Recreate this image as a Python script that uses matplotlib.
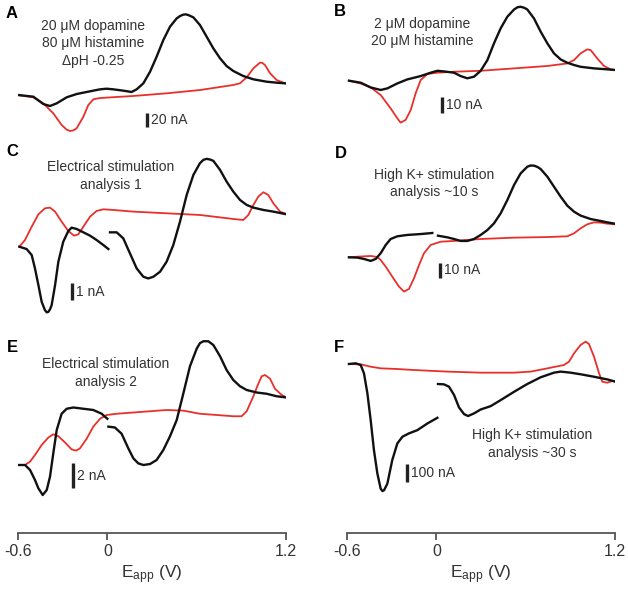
import matplotlib
matplotlib.use("Agg")
import matplotlib.pyplot as plt

plt.rcParams['font.family'] = ['Liberation Sans', 'DejaVu Sans']
plt.rcParams['mathtext.fontset'] = 'custom'
plt.rcParams['mathtext.rm'] = 'Liberation Sans'
plt.rcParams['mathtext.it'] = 'Liberation Sans'

W, H = 628, 592
BLACK = '#111111'
RED = '#e8302a'
TXT = '#333333'

# ---------------- data (E in V, current in nA) ----------------
# Panel A
A_black_E = [-0.6, -0.497, -0.43, -0.385, -0.34, -0.273, -0.206, -0.139, -0.049, -0.004, 0.04, 0.107, 0.163,
             0.197, 0.242, 0.287, 0.331, 0.376, 0.421, 0.466, 0.49, 0.51, 0.527, 0.544, 0.578, 0.622, 0.667,
             0.712, 0.757, 0.801, 0.846, 0.913, 0.981, 1.07, 1.137, 1.193]
A_black_I = [0, -2.4, -12.9, -15.7, -11.9, -3.3, 1.4, 4.3, 8.1, 9.0, 8.1, 6.2, 4.3,
             8.1, 16.7, 33.3, 54.7, 78.5, 97.6, 109.5, 113.0, 114.8, 115.2, 114.2, 110.9, 100, 83.3,
             66.6, 52.4, 41.4, 34.3, 27.1, 22.4, 19.0, 17.6, 16.7]
A_red_E = [-0.6, -0.497, -0.43, -0.363, -0.307, -0.273, -0.251, -0.228, -0.206, -0.161, -0.128, -0.094, -0.049,
           0.175, 0.398, 0.622, 0.846, 0.891, 0.936, 0.981, 1.025, 1.04, 1.059, 1.093, 1.137, 1.193]
A_red_I = [0, -3.3, -11.9, -26.2, -42.8, -49.5, -51.4, -50.5, -47.6, -31, -14.3, -6.2, -4.3,
           -1.4, 2.4, 7.1, 14.3, 16.7, 25.2, 38.1, 46.2, 46.0, 42.8, 31, 21.4, 16.7]

# Panel B
B_black_E = [-0.587, -0.508, -0.441, -0.374, -0.329, -0.262, -0.195, -0.105, -0.038, 0.007, 0.051, 0.119, 0.163,
             0.208, 0.253, 0.298, 0.343, 0.387, 0.432, 0.477, 0.522, 0.545, 0.566, 0.59, 0.611, 0.656, 0.701,
             0.746, 0.79, 0.835, 0.88, 0.925, 0.969, 1.059, 1.148, 1.2]
B_black_I = [0, -1.25, -4.2, -5.8, -4.8, -1.7, 0.8, 2.9, 5.0, 6.2, 5.8, 5.0, 2.9,
             1.5, 2.5, 6.2, 12.9, 23.3, 32.7, 40, 44.5, 45.9, 46.2, 45.6, 44.5, 38.9, 30.6,
             23.3, 17.1, 13.3, 11.2, 9.8, 8.7, 7.7, 7.1, 6.7]
B_red_E = [-0.587, -0.508, -0.441, -0.374, -0.307, -0.262, -0.24, -0.206, -0.172, -0.139, -0.105, -0.06, 0.007,
           0.119, 0.298, 0.522, 0.746, 0.88, 0.925, 0.969, 1.014, 1.037, 1.081, 1.126, 1.171, 1.2]
B_red_I = [0, -1.7, -4.2, -8.9, -17.3, -23.5, -26.2, -24.5, -18.3, -7.9, 0.4, 4.2, 5.0,
           5.6, 6.2, 7.7, 9.2, 10.8, 12.9, 17.1, 19.6, 19.1, 13.9, 9.2, 7.1, 6.7]

# Panel C
C_black1_E = [-0.591, -0.542, -0.508, -0.486, -0.463, -0.441, -0.419, -0.407, -0.396, -0.385, -0.374, -0.351,
              -0.329, -0.296, -0.262, -0.24, -0.206, -0.161, -0.116, -0.072, -0.027, 0.007]
C_black1_I = [0, -0.14, -0.5, -1.3, -2.3, -3.3, -3.8, -3.93, -3.9, -3.75, -3.5, -2.3,
              -0.9, 0.3, 0.94, 1.14, 1.06, 0.86, 0.66, 0.4, 0.1, -0.14]
C_black2_E = [0.018, 0.063, 0.107, 0.152, 0.197, 0.242, 0.275, 0.309, 0.354, 0.398, 0.443, 0.488, 0.533,
              0.578, 0.622, 0.645, 0.667, 0.69, 0.712, 0.757, 0.801, 0.846, 0.891, 0.936, 0.981, 1.048, 1.115,
              1.204]
C_black2_I = [0.86, 0.86, 0.5, -0.4, -1.3, -1.8, -1.9, -1.8, -1.5, -0.9, 0.1, 1.5, 3.1,
              4.3, 5.0, 5.2, 5.26, 5.22, 5.14, 4.6, 3.9, 3.3, 2.8, 2.5, 2.34, 2.2, 2.1,
              1.94]
C_red_E = [-0.591, -0.553, -0.508, -0.463, -0.419, -0.385, -0.351, -0.307, -0.262, -0.224, -0.195, -0.161,
           -0.116, -0.072, -0.027, 0.04, 0.175, 0.398, 0.622, 0.846, 0.913, 0.947, 0.981, 1.014, 1.048,
           1.081, 1.115, 1.16, 1.204]
C_red_I = [0, 0.4, 1.2, 1.94, 2.3, 2.34, 2.1, 1.5, 0.94, 0.66, 0.74, 1.2,
           1.8, 2.14, 2.24, 2.2, 2.1, 2.0, 1.9, 1.66, 1.6, 1.9, 2.5, 3.0, 3.26,
           3.1, 2.6, 2.1, 1.94]

# Panel D
D_black1_E = [-0.587, -0.531, -0.486, -0.441, -0.407, -0.374, -0.34, -0.307, -0.262, -0.195, -0.105, -0.027]
D_black1_I = [0, -0.2, -1.1, -2.4, -1.1, 2.7, 8.2, 12.2, 14.0, 14.9, 15.5, 16.2]
D_black2_E = [0.011, 0.074, 0.119, 0.163, 0.208, 0.253, 0.298, 0.343, 0.387, 0.432, 0.477, 0.522, 0.566,
              0.611, 0.633, 0.656, 0.68, 0.701, 0.746, 0.79, 0.835, 0.88, 0.925, 0.969, 1.037, 1.104, 1.148, 1.2]
D_black2_I = [14.4, 13.3, 12.2, 10.9, 10.9, 12.2, 14.9, 18.2, 22.6, 29.3, 38.2, 48.2, 55.9,
              60.4, 61.2, 61.1, 60.2, 58.8, 53.7, 47.1, 40.4, 34.4, 30.4, 27.8, 25.5, 24.2, 23.3, 22.4]
D_red_E = [-0.587, -0.531, -0.441, -0.396, -0.374, -0.34, -0.296, -0.251, -0.217, -0.184, -0.15, -0.116,
           -0.083, -0.038, 0.029, 0.119, 0.298, 0.522, 0.746, 0.88, 0.925, 0.969, 1.014, 1.059, 1.104, 1.148, 1.2]
D_red_I = [0, 0.4, 0.9, 0.2, -1.8, -6.2, -12.9, -19.5, -22.9, -21.1, -14.0, -5.1,
           2.7, 8.2, 10.4, 10.9, 12.2, 13.1, 13.5, 14.0, 16.0, 19.3, 22.0, 23.3, 23.1, 22.4, 22.0]

# Panel E
E_black1_E = [-0.598, -0.553, -0.519, -0.486, -0.463, -0.434, -0.407, -0.385, -0.363, -0.34, -0.307, -0.273,
              -0.228, -0.161, -0.094, -0.038, 0.0]
E_black1_I = [0, 0, -0.4, -1.2, -1.87, -2.4, -2.0, -0.93, 0.93, 2.8, 4.1, 4.5,
              4.6, 4.5, 4.4, 4.1, 3.7]
E_black2_E = [0.007, 0.051, 0.096, 0.141, 0.175, 0.208, 0.242, 0.287, 0.331, 0.376, 0.421, 0.466, 0.51,
              0.555, 0.6, 0.622, 0.645, 0.678, 0.712, 0.757, 0.801, 0.846, 0.891, 0.936, 1.003, 1.07, 1.137, 1.204]
E_black2_I = [3.07, 3.0, 2.5, 1.33, 0.53, 0.13, 0, 0.08, 0.4, 1.2, 2.3, 3.6, 5.7,
              7.9, 9.3, 9.75, 9.9, 9.9, 9.6, 8.7, 7.6, 6.8, 6.3, 6.0, 5.8, 5.7, 5.5, 5.4]
E_red_E = [-0.598, -0.553, -0.519, -0.486, -0.441, -0.396, -0.363, -0.329, -0.284, -0.24, -0.21, -0.184,
           -0.139, -0.094, -0.049, -0.004, 0.063, 0.175, 0.287, 0.398, 0.51, 0.622, 0.734, 0.846, 0.902,
           0.936, 0.981, 1.014, 1.037, 1.059, 1.093, 1.126, 1.171, 1.204]
E_red_I = [0, 0, 0.27, 0.8, 1.6, 2.2, 2.46, 2.3, 1.8, 1.25, 1.15, 1.33,
           2.1, 3.07, 3.7, 4.0, 4.1, 4.2, 4.3, 4.4, 4.35, 4.1, 4.0, 3.9, 3.9,
           4.3, 5.5, 6.5, 7.1, 7.2, 6.9, 6.1, 5.6, 5.4]

# Panel F
F_black1_E = [-0.587, -0.542, -0.508, -0.486, -0.463, -0.441, -0.419, -0.396, -0.374, -0.362, -0.351, -0.329,
              -0.296, -0.262, -0.228, -0.184, -0.128, -0.06, 0.007]
F_black1_I = [0, 3.8, -5.7, -52.8, -166, -317, -487, -619, -704, -718, -713, -676,
              -543, -449, -411, -392, -374, -336, -304]
F_black2_E = [0.011, 0.051, 0.085, 0.119, 0.152, 0.186, 0.213, 0.253, 0.298, 0.365, 0.432, 0.522, 0.611,
              0.701, 0.79, 0.835, 0.902, 0.969, 1.059, 1.148, 1.204]
F_black2_I = [-113, -115, -128, -175, -245, -283, -294, -279, -257, -238, -204, -157, -113,
              -75, -49, -43, -49, -58, -72, -87, -100]
F_red_E = [-0.587, -0.508, -0.441, -0.374, -0.262, -0.15, 0.074, 0.298, 0.522, 0.634, 0.746, 0.857,
           0.891, 0.925, 0.969, 1.003, 1.025, 1.059, 1.093, 1.115, 1.148, 1.182, 1.204]
F_red_I = [0, -1.9, -15.1, -24.5, -28.3, -34, -43, -49, -49, -43, -24.5, -5.7,
           13.2, 60.4, 107.6, 126.4, 113.2, 41.5, -52.8, -100, -105.7, -96.2, -100]

panel_labels = ['A', 'B', 'C', 'D', 'E', 'F']
panel_notes = ['20 \u03bcM dopamine\n80 \u03bcM histamine\n\u0394pH -0.25',
               '2 \u03bcM dopamine\n20 \u03bcM histamine',
               'Electrical stimulation\nanalysis 1',
               'High K+ stimulation\nanalysis ~10 s',
               'Electrical stimulation\nanalysis 2',
               'High K+ stimulation\nanalysis ~30 s']
scale_values = [20, 10, 1, 10, 2, 100]
scale_units = ['20 nA', '10 nA', '1 nA', '10 nA', '2 nA', '100 nA']
x_ticks = [-0.6, 0, 1.2]
x_ticklabels = ['-0.6', '0', '1.2']

black_series = [
    [(A_black_E, A_black_I)],
    [(B_black_E, B_black_I)],
    [(C_black1_E, C_black1_I), (C_black2_E, C_black2_I)],
    [(D_black1_E, D_black1_I), (D_black2_E, D_black2_I)],
    [(E_black1_E, E_black1_I), (E_black2_E, E_black2_I)],
    [(F_black1_E, F_black1_I), (F_black2_E, F_black2_I)],
]
red_series = [(A_red_E, A_red_I), (B_red_E, B_red_I), (C_red_E, C_red_I),
              (D_red_E, D_red_I), (E_red_E, E_red_I), (F_red_E, F_red_I)]

# ---------------- layout (pixels) ----------------
col_left = [18, 347, 18, 347, 18, 347]
col_w = 268
rows = [(0, 145), (0, 145), (145, 320), (145, 320), (320, 533), (320, 533)]
# baseline pixel (curve start) and pixels per scale bar
y0_px = [95, 80.7, 246.7, 257.3, 465, 364]
bar_px = [14, 16, 16.7, 15, 25, 17.7]
bar_pos = [(147, 127), (442, 113), (72, 300), (440, 278), (73, 488), (407, 482)]  # x, bottom y
note_pos = [(93, 43.5), (422, 32.5), (111, 176), (434, 183.5), (106, 373), (532, 444)]
label_pos = [(12, 13), (340, 11), (12, 152), (341, 153), (12, 348), (339, 348)]

fig = plt.figure(figsize=(W / 100, H / 100), dpi=100)


def fx(x):
    return x / W


def fy(y):
    return 1 - y / H


for i in range(6):
    T, B = rows[i]
    L = col_left[i]
    ax = fig.add_axes([fx(L), fy(B), col_w / W, (B - T) / H])
    s = scale_values[i] / bar_px[i]
    ax.set_xlim(-0.6, 1.2)
    ax.set_ylim((y0_px[i] - B) * s, (y0_px[i] - T) * s)
    ax.patch.set_alpha(0)
    for sp in ax.spines.values():
        sp.set_visible(False)
    ax.set_yticks([])
    if i >= 4:
        ax.spines['bottom'].set_visible(True)
        ax.spines['bottom'].set_color('#555555')
        ax.spines['bottom'].set_linewidth(1.3)
        ax.set_xticks(x_ticks)
        ax.set_xticklabels(x_ticklabels, fontsize=11.5, color=TXT)
        ax.tick_params(axis='x', direction='out', length=5, width=1.3, color='#555555', pad=3)
        ax.set_xlabel(r'E$_{\mathregular{app}}$ (V)', fontsize=12.5, color=TXT, labelpad=3)
    else:
        ax.set_xticks([])
    re, ri = red_series[i]
    ax.plot(re, ri, color=RED, lw=1.3, solid_joinstyle='round', zorder=2)
    for be, bi in black_series[i]:
        ax.plot(be, bi, color=BLACK, lw=1.7, solid_joinstyle='round', zorder=3)
    # scale bar
    bx, by = bar_pos[i]
    xe = -0.6 + (bx - L) / col_w * 1.8
    yb = (y0_px[i] - by) * s
    ax.plot([xe, xe], [yb, yb + scale_values[i]], color='#222222', lw=2.4, solid_capstyle='butt')
    fig.text(fx(bx + 4), fy(by - bar_px[i] / 2), scale_units[i], fontsize=10, color=TXT,
             ha='left', va='center')
    nx, ny = note_pos[i]
    fig.text(fx(nx), fy(ny), panel_notes[i], fontsize=10, color=TXT, ha='center', va='center',
             multialignment='center', linespacing=1.35)
    lx, ly = label_pos[i]
    fig.text(fx(lx), fy(ly), panel_labels[i], fontsize=12, fontweight='bold', color='black',
             ha='center', va='center')

fig.savefig('out.png', dpi=100)
